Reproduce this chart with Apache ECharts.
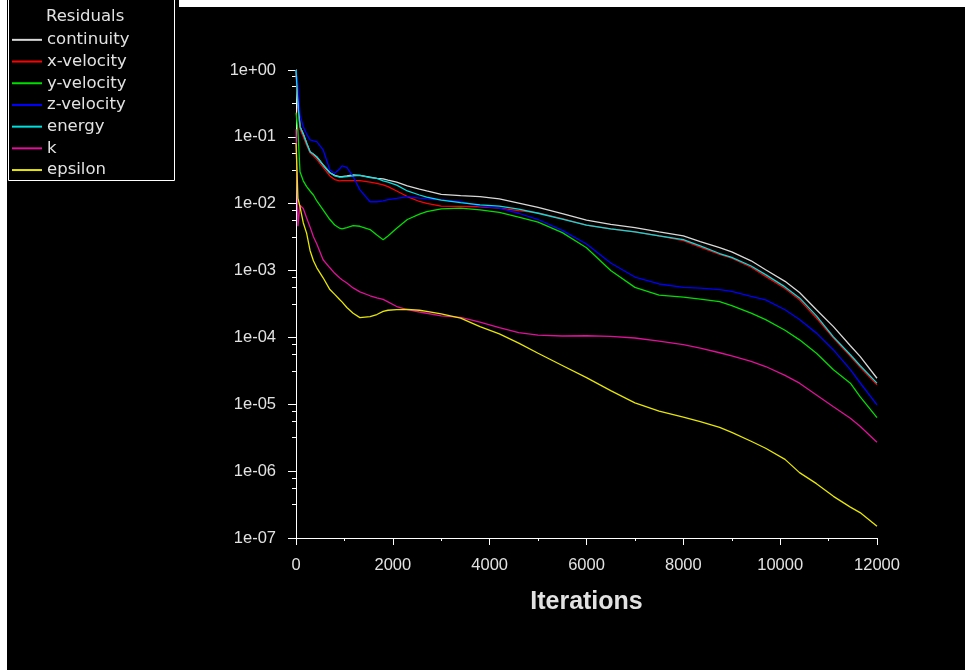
<!DOCTYPE html>
<html>
<head>
<meta charset="utf-8">
<title>Residuals</title>
<script src="https://cdn.jsdelivr.net/npm/echarts@6/dist/echarts.min.js"></script>
<style>
  html, body { margin: 0; padding: 0; background: #ffffff; }
  #chart { width: 965px; height: 670px; }
</style>
</head>
<body>
<div id="chart"></div>
<script>
// Iteration numbers at which residuals are sampled
const iterations = [1, 40, 83, 150, 220, 290, 360, 430, 560, 700, 800, 900, 950, 1050, 1180, 1320,
  1530, 1670, 1800, 1900, 2080, 2300, 2550, 2700, 3000, 3400, 3800, 4200, 4600, 5000, 5500, 6000,
  6500, 7000, 7500, 8000, 8350, 8750, 9000, 9400, 9700, 10100, 10400, 10750, 11100, 11450, 11650, 12000];

const continuity = [1.0, 0.35, 0.142, 0.11, 0.08, 0.06, 0.055, 0.05, 0.038, 0.029, 0.0265, 0.0255, 0.0255, 0.026, 0.027, 0.0265,
  0.025, 0.024, 0.0235, 0.0225, 0.021, 0.0185, 0.0165, 0.0155, 0.0138, 0.0132, 0.0128, 0.0118, 0.0102, 0.0088, 0.0071, 0.0057,
  0.0049, 0.0044, 0.0038, 0.0033, 0.0027, 0.0022, 0.0019, 0.0014, 0.00103, 0.00069, 0.00047, 0.00026, 0.000145, 0.000075, 0.000052, 0.0000245];

const xVelocity = [0.9, 0.25, 0.13, 0.1, 0.075, 0.058, 0.052, 0.046, 0.035, 0.026, 0.023, 0.022, 0.0221, 0.0221, 0.0221, 0.0221,
  0.021, 0.0202, 0.0192, 0.018, 0.0155, 0.0128, 0.0108, 0.0101, 0.0092, 0.0091, 0.009, 0.0086, 0.0079, 0.0073, 0.006, 0.0048,
  0.0042, 0.0038, 0.0033, 0.0028, 0.00224, 0.00175, 0.00153, 0.00112, 0.00082, 0.00054, 0.000365, 0.000195, 0.000098, 0.000052, 0.000036, 0.0000196];

const yVelocity = [0.23, 0.12, 0.03, 0.022, 0.018, 0.0155, 0.0135, 0.011, 0.0081, 0.0058, 0.0048, 0.0043, 0.0042, 0.0044, 0.0047, 0.0046,
  0.0041, 0.0034, 0.0029, 0.0033, 0.0043, 0.0058, 0.007, 0.0076, 0.0084, 0.0086, 0.0081, 0.0074, 0.0063, 0.0053, 0.0037, 0.0022,
  0.001, 0.00056, 0.00043, 0.0004, 0.000373, 0.000344, 0.0003, 0.000231, 0.000185, 0.000128, 0.000092, 0.000058, 0.0000328, 0.0000207, 0.000013, 0.0000063];

const zVelocity = [1.0, 0.6, 0.212, 0.142, 0.11, 0.09, 0.087, 0.085, 0.064, 0.032, 0.0286, 0.033, 0.0367, 0.035, 0.0254, 0.0161,
  0.0107, 0.0107, 0.011, 0.0115, 0.012, 0.0128, 0.0121, 0.0118, 0.0114, 0.0107, 0.0092, 0.0086, 0.0072, 0.0058, 0.004, 0.0025,
  0.0013, 0.0008, 0.00063, 0.00056, 0.000546, 0.00052, 0.00049, 0.00041, 0.000365, 0.000259, 0.000185, 0.000116, 0.000065, 0.000033, 0.000021, 0.0000098];

const energy = [1.0, 0.3, 0.142, 0.11, 0.08, 0.06, 0.055, 0.05, 0.038, 0.029, 0.026, 0.025, 0.025, 0.0255, 0.026, 0.0265,
  0.0245, 0.024, 0.022, 0.021, 0.019, 0.0155, 0.0135, 0.0125, 0.0113, 0.0104, 0.0096, 0.0092, 0.0083, 0.0072, 0.0059, 0.0048,
  0.0042, 0.0038, 0.0033, 0.0029, 0.00234, 0.0018, 0.00158, 0.00117, 0.00087, 0.00057, 0.00039, 0.00021, 0.000102, 0.000055, 0.000038, 0.0000207];

const kResidual = [0.13, 0.0046, 0.0095, 0.0085, 0.0061, 0.0045, 0.0032, 0.0025, 0.00145, 0.0011, 0.00091, 0.00078, 0.00073, 0.00065, 0.00055, 0.00048,
  0.00042, 0.00039, 0.00037, 0.00034, 0.00029, 0.00026, 0.00024, 0.00023, 0.00021, 0.0002, 0.00017, 0.00014, 0.000118, 0.000108, 0.000105, 0.000106,
  0.000104, 0.000098, 0.000088, 0.000078, 0.000069, 0.000059, 0.000053, 0.000044, 0.0000367, 0.000027, 0.0000207, 0.0000138, 0.0000092, 0.0000062, 0.0000047, 0.0000027];

const epsilon = [0.08, 0.012, 0.009, 0.0052, 0.0036, 0.002, 0.0014, 0.0011, 0.00078, 0.00052, 0.00044, 0.00037, 0.00034, 0.00028, 0.00023, 0.000198,
  0.000205, 0.00022, 0.000245, 0.000255, 0.00026, 0.000262, 0.000255, 0.000245, 0.000225, 0.000195, 0.000145, 0.000113, 0.000082, 0.000058, 0.000038, 0.000025,
  0.000016, 0.0000105, 0.0000079, 0.0000064, 0.0000055, 0.0000045, 0.0000038, 0.0000028, 0.0000022, 0.0000015, 0.00000095, 0.00000065, 0.00000042, 0.00000029, 0.00000024, 0.00000015];

const seriesNames = ['continuity', 'x-velocity', 'y-velocity', 'z-velocity', 'energy', 'k', 'epsilon'];
const seriesValues = [continuity, xVelocity, yVelocity, zVelocity, energy, kResidual, epsilon];
const seriesColors = ['#d8d8d8', '#ff0000', '#00dd00', '#0000ff', '#00dede', '#e0109a', '#e6e600'];

// Log-axis decade range and minor tick offsets (fractions of a decade below each power of ten)
const decadeMin = -7;
const decadeMax = 0;
const minorOffsets = [0.1, 0.25, 0.5];
const minorStep = 0.05;

// Exponent grid for the minor-tick companion axis (category positions spread evenly over the decades)
const stepCount = Math.round((decadeMax - decadeMin) / minorStep);
const exponentSlots = [];
for (let i = 0; i <= stepCount; i++) exponentSlots.push((decadeMin + i * minorStep).toFixed(2));

function isMinorSlot(index) {
  const e = decadeMin + index * minorStep;
  const below = Math.ceil(e - 1e-9) - e;
  return minorOffsets.some(function (o) { return Math.abs(below - o) < 1e-6; });
}

function expLabel(v) {
  const e = Math.round(Math.log10(v));
  const s = e < 0 ? '-' : '+';
  const a = Math.abs(e);
  return '1e' + s + (a < 10 ? '0' : '') + a;
}

const labelFont = 'Liberation Sans, Arial, sans-serif';
const legendFont = 'DejaVu Sans, sans-serif';
const textColor = '#e2e2e2';

const chart = echarts.init(document.getElementById('chart'), null, { renderer: 'canvas' });

const option = {
  backgroundColor: '#ffffff',
  animation: false,
  graphic: [
    { type: 'rect', z: -20, shape: { x: 7, y: 7, width: 958, height: 663 }, style: { fill: '#000000' } },
    { type: 'rect', z: -19, shape: { x: 7, y: 0, width: 172, height: 184 }, style: { fill: '#000000' } },
    { type: 'rect', z: -18, shape: { x: 8.5, y: -5, width: 166, height: 185.5 },
      style: { fill: '#000000', stroke: '#ffffff', lineWidth: 1 } },
    { type: 'text', z: 10, left: 46, top: 8,
      style: { text: 'Residuals', fill: textColor, font: '16.5px ' + legendFont } }
  ],
  legend: {
    orient: 'vertical',
    left: 12,
    top: 29,
    padding: 0,
    itemGap: 0,
    itemWidth: 30,
    itemHeight: 2,
    icon: 'rect',
    selectedMode: false,
    data: seriesNames,
    textStyle: { color: textColor, fontFamily: legendFont, fontSize: 16.5, lineHeight: 21.7, padding: [0, 0, 0, 0] }
  },
  grid: { left: 296, top: 70, width: 581, height: 468, containLabel: false },
  xAxis: {
    type: 'value',
    min: 0,
    max: 12000,
    interval: 2000,
    name: 'Iterations',
    nameLocation: 'middle',
    nameGap: 52,
    nameTextStyle: { color: textColor, fontFamily: labelFont, fontSize: 25, fontWeight: 'bold' },
    axisLine: { show: true, onZero: false, lineStyle: { color: '#ffffff', width: 1 } },
    axisTick: { show: true, length: 7, lineStyle: { color: '#ffffff' } },
    minorTick: { show: true, splitNumber: 2, length: 3, lineStyle: { color: '#ffffff' } },
    axisLabel: { color: textColor, fontFamily: labelFont, fontSize: 16.5, margin: 19,
      formatter: function (v) { return String(v); } },
    splitLine: { show: false }
  },
  yAxis: [
    {
      type: 'log',
      logBase: 10,
      min: Math.pow(10, decadeMin),
      max: Math.pow(10, decadeMax),
      splitNumber: 7,
      axisLine: { show: true, onZero: false, lineStyle: { color: '#ffffff', width: 1 } },
      axisTick: { show: true, length: 8, lineStyle: { color: '#ffffff' } },
      axisLabel: { color: textColor, fontFamily: labelFont, fontSize: 16.5, margin: 20, formatter: expLabel },
      splitLine: { show: false }
    },
    {
      // companion axis that only carries the minor ticks of the log scale
      type: 'category',
      data: exponentSlots,
      boundaryGap: false,
      position: 'left',
      axisLine: { show: false, onZero: false },
      axisLabel: { show: false },
      splitLine: { show: false },
      axisTick: { show: true, length: 4, interval: function (index) { return isMinorSlot(index); },
        lineStyle: { color: '#ffffff', width: 1 } }
    }
  ],
  series: seriesNames.map(function (name, i) {
    return {
      name: name,
      type: 'line',
      yAxisIndex: 0,
      symbol: 'none',
      smooth: false,
      color: seriesColors[i],
      lineStyle: { width: 1.3, color: seriesColors[i] },
      data: iterations.map(function (it, j) { return [it, seriesValues[i][j]]; })
    };
  })
};

chart.setOption(option);
</script>
</body>
</html>
